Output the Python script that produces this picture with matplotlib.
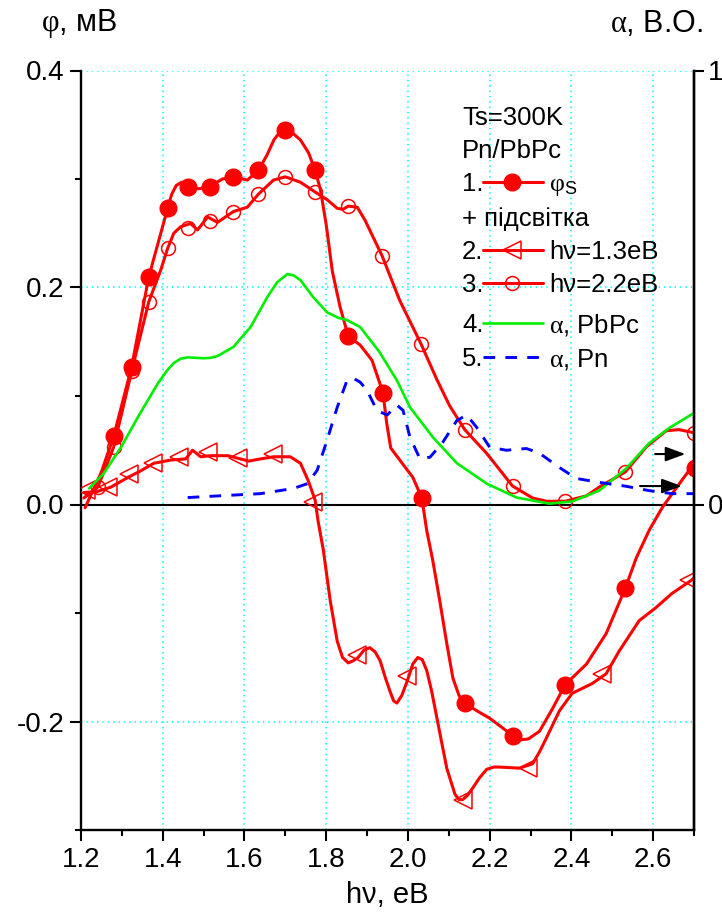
import numpy as np
import matplotlib
matplotlib.use("Agg")
import matplotlib.pyplot as plt
from matplotlib.lines import Line2D
from matplotlib.ticker import MultipleLocator, FormatStrFormatter

plt.rcParams['font.family'] = ['Liberation Sans', 'DejaVu Sans']
plt.rcParams['mathtext.fontset'] = 'custom'
plt.rcParams['mathtext.rm'] = 'Liberation Serif'
plt.rcParams['mathtext.it'] = 'Liberation Serif:italic'
plt.rcParams['mathtext.sf'] = 'Liberation Sans'
plt.rcParams['mathtext.default'] = 'rm'
plt.rcParams['axes.unicode_minus'] = False
plt.rcParams['lines.solid_joinstyle'] = 'round'
plt.rcParams['lines.solid_capstyle'] = 'round'

phi_line_x = [1.210, 1.250, 1.280, 1.324, 1.366, 1.412, 1.422, 1.433, 1.446, 1.463, 1.488, 1.515, 1.546,
              1.573, 1.607, 1.634, 1.655, 1.672, 1.688, 1.700, 1.716, 1.737, 1.757, 1.773, 1.786,
              1.800, 1.815, 1.834, 1.854, 1.883, 1.912, 1.939, 1.948, 1.958, 1.980, 2.012, 2.034,
              2.046, 2.061, 2.078, 2.095, 2.110, 2.125, 2.139, 2.168, 2.200, 2.232, 2.256, 2.275,
              2.295, 2.322, 2.354, 2.385, 2.437, 2.485, 2.532, 2.559, 2.590, 2.622, 2.660, 2.693,
              2.702]
phi_line_y = [-0.003, 0.030, 0.063, 0.127, 0.210, 0.273, 0.286, 0.294, 0.297, 0.293, 0.291, 0.293, 0.300,
              0.302, 0.299, 0.308, 0.322, 0.336, 0.344, 0.345, 0.343, 0.336, 0.324, 0.308, 0.290,
              0.258, 0.215, 0.182, 0.155, 0.147, 0.133, 0.103, 0.075, 0.052, 0.041, 0.025, 0.006,
              -0.024, -0.052, -0.089, -0.128, -0.160, -0.176, -0.183, -0.190, -0.197, -0.206, -0.213, -0.217,
              -0.216, -0.209, -0.188, -0.166, -0.147, -0.119, -0.077, -0.049, -0.024, -0.003, 0.017, 0.034,
              0.039]
phi_mk_x = [1.280, 1.324, 1.366, 1.412, 1.463, 1.515, 1.573, 1.634, 1.700, 1.773, 1.854, 1.939,
            2.034, 2.139, 2.256, 2.385, 2.532, 2.702]
phi_mk_y = [0.063, 0.127, 0.210, 0.273, 0.293, 0.293, 0.302, 0.308, 0.345, 0.308, 0.155, 0.103,
            0.006, -0.183, -0.213, -0.166, -0.077, 0.034]

# 2. illumination hv=1.3 eV
ill13_line_x = [1.207, 1.240, 1.273, 1.315, 1.346, 1.378, 1.420, 1.456, 1.473, 1.493, 1.517, 1.559, 1.590,
                1.610, 1.639, 1.671, 1.712, 1.737, 1.756, 1.773, 1.780, 1.793, 1.810, 1.827, 1.840,
                1.854, 1.866, 1.878, 1.893, 1.907, 1.920, 1.932, 1.945, 1.956, 1.965, 1.973, 1.985,
                1.998, 2.012, 2.024, 2.035, 2.046, 2.058, 2.071, 2.095, 2.115, 2.125, 2.134, 2.146,
                2.159, 2.175, 2.193, 2.210, 2.224, 2.273, 2.305, 2.322, 2.339, 2.371, 2.402, 2.451,
                2.485, 2.517, 2.566, 2.607, 2.646, 2.693, 2.702]
ill13_line_y = [0.011, 0.012, 0.016, 0.025, 0.031, 0.038, 0.041, 0.042, 0.050, 0.044, 0.045, 0.045, 0.042,
                0.040, 0.042, 0.044, 0.044, 0.038, 0.022, 0.004, -0.015, -0.042, -0.089, -0.126, -0.141,
                -0.146, -0.144, -0.141, -0.134, -0.132, -0.136, -0.144, -0.160, -0.172, -0.181, -0.183, -0.176,
                -0.163, -0.147, -0.141, -0.143, -0.153, -0.172, -0.197, -0.243, -0.267, -0.272, -0.272, -0.268,
                -0.261, -0.252, -0.244, -0.242, -0.242, -0.243, -0.239, -0.228, -0.215, -0.190, -0.174, -0.165,
                -0.156, -0.135, -0.107, -0.095, -0.082, -0.070, -0.067]
ill13_mk_x = [1.212, 1.266, 1.317, 1.376, 1.439, 1.510, 1.585, 1.671, 1.768, 1.876, 1.998, 2.134,
              2.293, 2.476, 2.688]
ill13_mk_y = [0.013, 0.016, 0.028, 0.038, 0.044, 0.048, 0.043, 0.047, 0.002, -0.139, -0.158, -0.272,
              -0.243, -0.156, -0.070]

# 3. illumination hv=2.2 eV
ill22_line_x = [1.207, 1.241, 1.280, 1.324, 1.366, 1.395, 1.412, 1.427, 1.444, 1.468, 1.485, 1.510,
                1.534, 1.573, 1.607, 1.634, 1.671, 1.700, 1.737, 1.773, 1.802, 1.827, 1.841, 1.854,
                1.876, 1.895, 1.937, 1.980, 2.032, 2.071, 2.102, 2.139, 2.193, 2.256, 2.305, 2.339,
                2.385, 2.437, 2.468, 2.532, 2.583, 2.632, 2.663, 2.702]
ill22_line_y = [0.006, 0.016, 0.053, 0.123, 0.187, 0.216, 0.236, 0.250, 0.256, 0.259, 0.253, 0.265,
                0.260, 0.270, 0.274, 0.286, 0.299, 0.302, 0.297, 0.288, 0.281, 0.273, 0.272, 0.275,
                0.274, 0.262, 0.229, 0.188, 0.148, 0.115, 0.091, 0.069, 0.047, 0.017, 0.006, 0.003,
                0.003, 0.008, 0.016, 0.030, 0.053, 0.068, 0.069, 0.066]
ill22_mk_x = [1.241, 1.280, 1.324, 1.366, 1.412, 1.463, 1.515, 1.573, 1.634, 1.700, 1.773, 1.854,
              1.937, 2.032, 2.139, 2.256, 2.385, 2.532, 2.700]
ill22_mk_y = [0.016, 0.053, 0.123, 0.187, 0.236, 0.255, 0.261, 0.270, 0.286, 0.302, 0.288, 0.275,
              0.229, 0.148, 0.069, 0.017, 0.003, 0.030, 0.066]

# 4. absorption PbPc (right axis, a.u.)
pbpc_x = [1.220, 1.256, 1.298, 1.339, 1.388, 1.410, 1.427, 1.444, 1.461, 1.480, 1.500, 1.517, 1.534,
          1.573, 1.615, 1.656, 1.680, 1.705, 1.720, 1.737, 1.768, 1.802, 1.830, 1.851, 1.883,
          1.930, 1.973, 2.005, 2.061, 2.120, 2.193, 2.266, 2.346, 2.402, 2.468, 2.534, 2.590,
          2.639, 2.702]
pbpc_a = [0.037, 0.072, 0.132, 0.201, 0.279, 0.308, 0.326, 0.336, 0.339, 0.338, 0.337, 0.338, 0.342,
          0.363, 0.409, 0.478, 0.512, 0.531, 0.528, 0.517, 0.478, 0.443, 0.430, 0.425, 0.409,
          0.352, 0.286, 0.224, 0.155, 0.095, 0.048, 0.016, 0.002, 0.007, 0.032, 0.083, 0.141,
          0.176, 0.212]

# 5. absorption Pn (right axis, a.u.)
pn_x = [1.461, 1.559, 1.639, 1.720, 1.754, 1.778, 1.802, 1.827, 1.851, 1.866, 1.883, 1.900,
        1.924, 1.949, 1.973, 1.988, 2.005, 2.029, 2.054, 2.085, 2.120, 2.144, 2.168, 2.200,
        2.241, 2.290, 2.322, 2.371, 2.412, 2.468, 2.534, 2.590, 2.646, 2.702]
pn_a = [0.016, 0.021, 0.025, 0.037, 0.048, 0.079, 0.148, 0.224, 0.286, 0.291, 0.282, 0.263,
        0.217, 0.206, 0.229, 0.217, 0.155, 0.106, 0.109, 0.143, 0.194, 0.206, 0.178, 0.132,
        0.125, 0.129, 0.118, 0.085, 0.060, 0.051, 0.042, 0.032, 0.025, 0.025]

# arrows pointing to the right axis: (x start, x end, y)
arrows = [(2.605, 2.679, 0.0465), (2.568, 2.670, 0.017)]

RED = '#FF0000'
GREEN = '#00EE00'
BLUE = '#0000FF'
GRID = '#00FFFF'

W, H = 722, 915
fig = plt.figure(figsize=(W / 100, H / 100), dpi=100)


def fx(px):
    return px / W


def fy(py):
    return 1 - py / H


ax = fig.add_axes([fx(81), fy(830), (694 - 81) / W, (830 - 70.5) / H])

ax.set_xlim(1.2, 2.7)
ax.set_ylim(-0.3, 0.4)
ax.xaxis.set_major_locator(MultipleLocator(0.2))
ax.xaxis.set_minor_locator(MultipleLocator(0.1))
ax.yaxis.set_major_locator(MultipleLocator(0.2))
ax.yaxis.set_minor_locator(MultipleLocator(0.1))
ax.xaxis.set_major_formatter(FormatStrFormatter('%.1f'))
ax.yaxis.set_major_formatter(FormatStrFormatter('%.1f'))
ax.tick_params(which='major', direction='out', length=8, width=1.5, labelsize=20, pad=4)
ax.tick_params(which='minor', direction='out', length=4.5, width=1.5)
ax.spines['top'].set_visible(False)
for s in ['left', 'bottom', 'right']:
    ax.spines[s].set_linewidth(1.7)
ax.grid(which='major', color=GRID, ls=(0, (1, 2.5)), lw=1.1)
ax.set_axisbelow(True)
ax.axhline(0, color='black', lw=1.5, zorder=1.5)

ax.plot(phi_line_x, phi_line_y, color=RED, lw=2.2, zorder=3)
ax.plot(phi_mk_x, phi_mk_y, ls='none', marker='o', ms=12, mfc=RED, mec=RED, zorder=4)
ax.plot(ill13_line_x, ill13_line_y, color=RED, lw=2.2, zorder=3)
ax.plot(ill13_mk_x, ill13_mk_y, ls='none', marker='<', ms=13, mfc='none', mec=RED, mew=1.1, zorder=4)
ax.plot(ill22_line_x, ill22_line_y, color=RED, lw=2.2, zorder=3)
ax.plot(ill22_mk_x, ill22_mk_y, ls='none', marker='o', ms=10, mfc='none', mec=RED, mew=1.1, zorder=4)

for x0, x1, y in arrows:
    ax.annotate('', xy=(x1, y), xytext=(x0, y),
                arrowprops=dict(arrowstyle='-|>,head_length=0.6,head_width=0.22', color='black',
                                lw=1.5, mutation_scale=20, shrinkA=0, shrinkB=0))

ax.set_xlabel('hν, eB', fontsize=21, labelpad=6)

ax2 = ax.twinx()
ax2.set_ylim(-0.75, 1.0)
ax2.set_yticks([0, 1])
ax2.set_yticklabels(['0', '1'])
ax2.tick_params(axis='y', direction='out', length=7, width=1.5, labelsize=20, pad=3)
for s in ['top', 'left', 'bottom']:
    ax2.spines[s].set_visible(False)
ax2.spines['right'].set_linewidth(1.7)
ax2.plot(pbpc_x, pbpc_a, color=GREEN, lw=1.9)
ax2.plot(pn_x, pn_a, color=BLUE, lw=2.1, ls=(0, (4, 3.5)))

# axis titles
fig.text(fx(79), fy(24), r'$\varphi$, мВ', fontsize=22, ha='center', va='center')
fig.text(fx(657), fy(24), r'$\alpha$, В.О.', fontsize=22, ha='center', va='center')

# legend block
LX, KX0, KX1, KM, TX = 462, 483, 543, 512, 549
fs = 18.5
fig.text(fx(LX), fy(125), 'Ts=300K', fontsize=fs, va='baseline')
fig.text(fx(LX), fy(158), 'Pn/PbPc', fontsize=fs, va='baseline')
fig.text(fx(LX), fy(226), '+ підсвітка', fontsize=fs, va='baseline')

entries = [
    ('1.', 191, r'$\varphi_\mathsf{S}$', dict(color=RED, lw=2.2, marker='o', ms=12, mfc=RED, mec=RED)),
    ('2.', 259, 'hν=1.3eB', dict(color=RED, lw=2.2, marker='<', ms=13, mfc='none', mec=RED, mew=1.1)),
    ('3.', 292, 'hν=2.2eB', dict(color=RED, lw=2.2, marker='o', ms=10, mfc='none', mec=RED, mew=1.1)),
    ('4.', 332, r'$\alpha$, PbPc', dict(color=GREEN, lw=1.9)),
    ('5.', 366, r'$\alpha$, Pn', dict(color=BLUE, lw=2.1, ls=(0, (4, 3.5)))),
]
for num, base, label, style in entries:
    yc = base - 9
    fig.text(fx(LX), fy(base), num, fontsize=fs, va='baseline')
    fig.add_artist(Line2D([fx(KX0), fx(KX1)], [fy(yc), fy(yc)], transform=fig.transFigure,
                          **{k: v for k, v in style.items() if k not in ('marker', 'ms', 'mfc', 'mec', 'mew')}))
    if 'marker' in style:
        fig.add_artist(Line2D([fx(KM)], [fy(yc)], transform=fig.transFigure, ls='none',
                              marker=style['marker'], ms=style['ms'], mfc=style['mfc'],
                              mec=style['mec'], mew=style.get('mew', 1)))
    fig.text(fx(TX), fy(base), label, fontsize=fs, va='baseline')

fig.savefig('out.png', dpi=100)
